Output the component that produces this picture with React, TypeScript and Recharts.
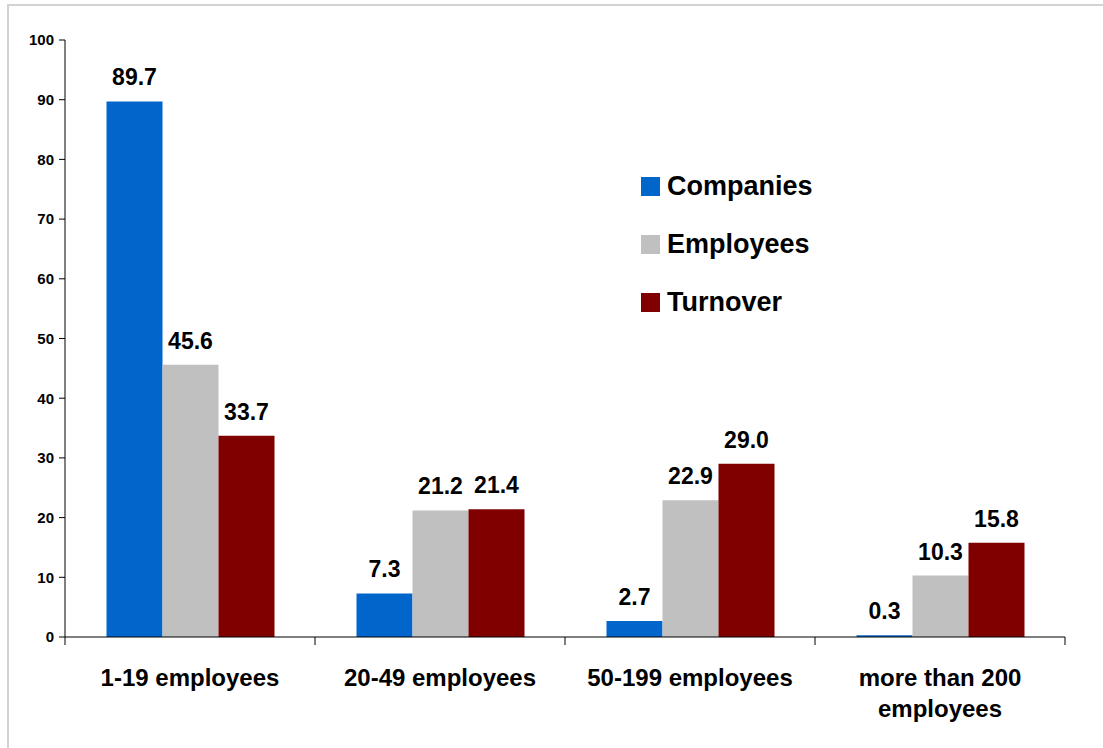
import React from 'react';
import { BarChart, Bar, XAxis, YAxis, Legend, LabelList } from 'recharts';

const categories = ['1-19 employees', '20-49 employees', '50-199 employees', 'more than 200 employees'];
const categoryLines = [['1-19 employees'], ['20-49 employees'], ['50-199 employees'], ['more than 200', 'employees']];
const companies = [89.7, 7.3, 2.7, 0.3];
const employees = [45.6, 21.2, 22.9, 10.3];
const turnover = [33.7, 21.4, 29.0, 15.8];
const yTicks = [0, 10, 20, 30, 40, 50, 60, 70, 80, 90, 100];

const FONT = '"Liberation Sans", Arial, sans-serif';

const data = categories.map((c, i) => ({
  category: c,
  Companies: companies[i],
  Employees: employees[i],
  Turnover: turnover[i],
}));

// label plus tick marks on the category borders (Excel style)
const CategoryTick = (props: any) => {
  const { x, y, payload, width, visibleTicksCount, index } = props;
  const band = width / visibleTicksCount;
  const lines = categoryLines[categories.indexOf(payload.value)] || [payload.value];
  return (
    <g>
      <line x1={x - band / 2} x2={x - band / 2} y1={y} y2={y + 8} stroke="#000" />
      {index === visibleTicksCount - 1 && (
        <line x1={x + band / 2} x2={x + band / 2} y1={y} y2={y + 8} stroke="#000" />
      )}
      <text x={x} y={y} textAnchor="middle" fontFamily={FONT} fontWeight="bold" fontSize={24} fill="#000">
        {lines.map((l: string, i: number) => (
          <tspan key={i} x={x} dy={i === 0 ? 49 : 31}>{l}</tspan>
        ))}
      </text>
    </g>
  );
};

const LegendBox = (props: any) => {
  const items = props.payload || [];
  return (
    <div style={{ fontFamily: FONT, fontWeight: 'bold', fontSize: 27, color: '#000' }}>
      {items.map((it: any) => (
        <div key={it.value} style={{ display: 'flex', alignItems: 'center', height: 58 }}>
          <span style={{ display: 'inline-block', width: 19, height: 19, background: it.color, marginRight: 7 }} />
          <span>{it.value}</span>
        </div>
      ))}
    </div>
  );
};

const fmt = (v: any) => Number(v).toFixed(1);

const labelStyle = { fontFamily: FONT, fontWeight: 'bold', fontSize: 23, fill: '#000' } as any;

export default function App() {
  return (
    <div style={{ position: 'absolute', left: 0, top: 0, width: 1103, height: 748, background: '#fff', overflow: 'hidden' }}>
      <div style={{ position: 'absolute', left: 7, top: 4, width: 1200, height: 800, borderTop: '2px solid #d2d2d2', borderLeft: '2px solid #d2d2d2' }} />
      <BarChart
        width={1103}
        height={748}
        data={data}
        margin={{ top: 40, right: 38, left: 0, bottom: 10 }}
        barCategoryGap="16.6%"
        barGap={0}
      >
        <XAxis
          dataKey="category"
          height={101}
          axisLine={{ stroke: '#000' }}
          tickLine={false}
          tickSize={0}
          tickMargin={0}
          tick={<CategoryTick />}
          interval={0}
        />
        <YAxis
          domain={[0, 100]}
          ticks={yTicks}
          width={65}
          axisLine={{ stroke: '#000' }}
          tickLine={{ stroke: '#000' }}
          tickSize={6}
          tickMargin={5}
          tick={{ fontFamily: FONT, fontWeight: 'bold', fontSize: 15, fill: '#000' }}
        />
        <Legend
          layout="vertical"
          align="center"
          verticalAlign="middle"
          content={<LegendBox />}
          wrapperStyle={{ position: 'absolute', left: 641, top: 157, width: 220 }}
        />
        <Bar dataKey="Companies" fill="#0066CC" isAnimationActive={false}>
          <LabelList dataKey="Companies" position="top" offset={16} formatter={fmt} style={labelStyle} />
        </Bar>
        <Bar dataKey="Employees" fill="#C0C0C0" isAnimationActive={false}>
          <LabelList dataKey="Employees" position="top" offset={16} formatter={fmt} style={labelStyle} />
        </Bar>
        <Bar dataKey="Turnover" fill="#800000" isAnimationActive={false}>
          <LabelList dataKey="Turnover" position="top" offset={16} formatter={fmt} style={labelStyle} />
        </Bar>
      </BarChart>
    </div>
  );
}
